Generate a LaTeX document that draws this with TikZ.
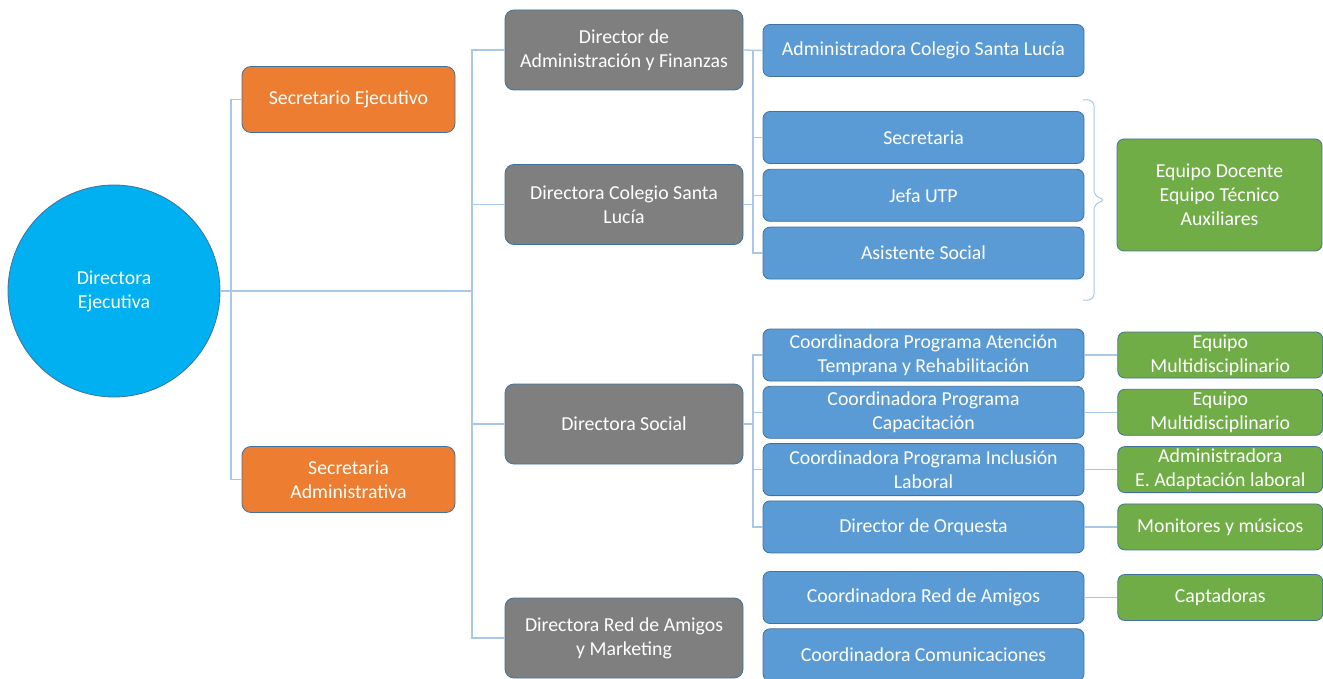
\documentclass[tikz,border=0pt]{standalone}
\usepackage{fontspec}
\setmainfont{Carlito}
\usetikzlibrary{positioning}

\definecolor{chiefblue}{HTML}{00B0F0}
\definecolor{secorange}{HTML}{ED7D31}
\definecolor{headgray}{HTML}{7F7F7F}
\definecolor{unitblue}{HTML}{5B9BD5}
\definecolor{teamgreen}{HTML}{70AD47}
\definecolor{rimblue}{HTML}{41719C}
\definecolor{linkblue}{HTML}{A9C8E8}

\begin{document}
\begin{tikzpicture}[x=1pt,y=-1pt,font=\fontsize{19.8}{24}\selectfont,node distance=5pt,line width=1.3pt]

		\tikzset{box st/.style={rectangle, rounded corners=9pt,
								draw=rimblue, line width=0.8pt,
								text=white, align=center, inner sep=2pt},
				 chief st/.style={circle, draw=rimblue, line width=0.8pt,
								fill=chiefblue, text=white, align=center,
								minimum size=212pt},
				 sec st/.style={box st, fill=secorange,
								minimum width=213pt, minimum height=66pt},
				 head st/.style={box st, fill=headgray,
								minimum width=238pt, minimum height=80pt},
				 unit st/.style={box st, rounded corners=7pt, fill=unitblue,
								minimum width=321pt, minimum height=52pt},
				 team st/.style={box st, rounded corners=7pt, fill=teamgreen,
								minimum width=205pt, minimum height=46pt},
				 link/.style={draw=linkblue, line width=1.3pt}}

		\useasboundingbox (0,0) rectangle (1323,679);

		\node[chief st] (dir) at (114,291) {Directora\\Ejecutiva};
		\node[sec st] (sece) at (348.5,99.5) {Secretario Ejecutivo};
		\node[sec st] (seca) at (348.5,479.5) {Secretaria\\Administrativa};

		\node[head st] (gadm) at (624,50) {Director de\\Administración y Finanzas};
		\node[head st] (gcol) at (624,204.5) {Directora Colegio Santa\\Lucía};
		\node[head st] (gsoc) at (624,424) {Directora Social};
		\node[head st] (gred) at (624,638) {Directora Red de Amigos\\y Marketing};

		\node[unit st] (badm) at (923.5,50.5) {Administradora Colegio Santa Lucía};
		\node[unit st] (bsec) at (923.5,137.5) {Secretaria};
		\node[unit st, below=of bsec] (bjefa) {Jefa UTP};
		\node[unit st, below=of bjefa] (basis) {Asistente Social};

		\node[unit st] (bpat) at (923.5,355) {Coordinadora Programa Atención\\Temprana y Rehabilitación};
		\node[unit st, below=4.5pt of bpat] (bcap) {Coordinadora Programa\\Capacitación};
		\node[unit st, below=4.5pt of bcap] (binc) {Coordinadora Programa Inclusión\\Laboral};
		\node[unit st, below=4.5pt of binc] (borq) {Director de Orquesta};

		\node[unit st] (bamg) at (923.5,597.5) {Coordinadora Red de Amigos};
		\node[unit st, below=4.5pt of bamg] (bcom) {Coordinadora Comunicaciones};

		\node[team st, minimum height=112pt] (tdoc) at (1219.5,195) {Equipo Docente\\Equipo Técnico\\Auxiliares};
		\node[team st, right=33pt of bpat] (tpat) {Equipo\\Multidisciplinario};
		\node[team st, right=33pt of bcap] (tcap) {Equipo\\Multidisciplinario};
		\node[team st, right=33pt of binc] (tinc) {Administradora\\E. Adaptación laboral};
		\node[team st, right=33pt of borq] (torq) {Monitores y músicos};
		\node[team st, right=33pt of bamg] (tamg) {Captadoras};

		\coordinate (busL) at (231,291);
		\coordinate (busR) at (472,291);
		\coordinate (busC) at (753,204.5);
		\coordinate (busS) at (753,424);
		\coordinate (brT) at (1083,100);
		\coordinate (brM) at (1106,200);
		\coordinate (brB) at (1083,300);

		\draw[link] (dir.east) -- (busR);
		\draw[link] (sece.west) -| (busL) |- (seca.west);
		\draw[link] (gadm.west) -| (busR) |- (gred.west);
		\draw[link] (busR) |- (gcol.west);
		\draw[link] (busR) |- (gsoc.west);
		\draw[link] (gadm.east) -- (badm.west);
		\draw[link] (badm.west) -| (busC) |- (basis.west);
		\draw[link] (gcol.east) -- (busC);
		\draw[link] (busC) |- (bsec.west);
		\draw[link] (busC) |- (bjefa.west);
		\draw[link] (gsoc.east) -- (busS);
		\draw[link] (bpat.west) -| (busS) |- (borq.west);
		\draw[link] (busS) |- (bcap.west);
		\draw[link] (busS) |- (binc.west);
		\draw[link] (bpat.east) -- (tpat.west);
		\draw[link] (bcap.east) -- (tcap.west);
		\draw[link] (binc.east) -- (tinc.west);
		\draw[link] (borq.east) -- (torq.west);
		\draw[link] (bamg.east) -- (tamg.west);
		\draw[link, line width=1pt, rounded corners=6pt]
			(brT) -- ++(11,0) -- ++(0,96) -- (brM) -- ++(-12,4) -- ++(0,96) -- (brB);
		\end{tikzpicture}
\end{document}
